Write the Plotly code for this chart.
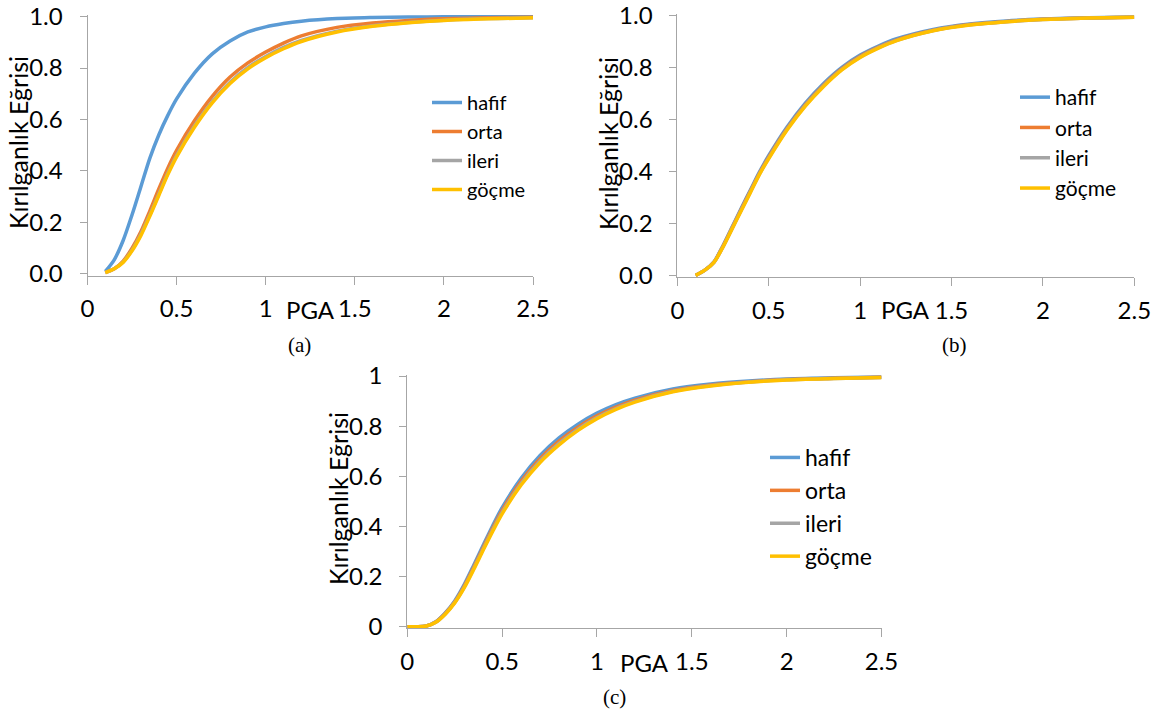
import plotly.graph_objects as go

# ---------------- data ----------------
SERIES = ["hafif", "orta", "ileri", "göçme"]
COLORS = ["#5B9BD5", "#ED7D31", "#A5A5A5", "#FFC000"]

X_TICKS = [0, 0.5, 1, 1.5, 2, 2.5]
Y_TICKS = [0, 0.2, 0.4, 0.6, 0.8, 1.0]

X_AB = [0.1, 0.15, 0.2, 0.25, 0.3, 0.35, 0.4, 0.45, 0.5, 0.6, 0.7, 0.8, 0.9,
        1.0, 1.1, 1.2, 1.4, 1.6, 1.8, 2.0, 2.25, 2.5]

A_hafif = [0.010, 0.055, 0.130, 0.230, 0.340, 0.450, 0.540, 0.615, 0.680, 0.780, 0.855, 0.905, 0.940,
           0.960, 0.973, 0.982, 0.992, 0.996, 0.998, 0.999, 1.000, 1.000]
A_orta = [0.005, 0.020, 0.050, 0.100, 0.165, 0.245, 0.330, 0.410, 0.480, 0.595, 0.690, 0.765, 0.820,
          0.862, 0.897, 0.925, 0.958, 0.975, 0.985, 0.991, 0.995, 0.997]
A_ileri = [0.005, 0.020, 0.047, 0.093, 0.155, 0.230, 0.310, 0.390, 0.460, 0.575, 0.670, 0.745, 0.802,
           0.845, 0.880, 0.907, 0.943, 0.964, 0.977, 0.986, 0.992, 0.995]
A_gocme = [0.005, 0.020, 0.045, 0.090, 0.150, 0.225, 0.305, 0.385, 0.455, 0.570, 0.665, 0.740, 0.797,
           0.840, 0.875, 0.903, 0.940, 0.962, 0.976, 0.985, 0.991, 0.995]

B_hafif = [0.000, 0.020, 0.052, 0.115, 0.187, 0.260, 0.330, 0.400, 0.462, 0.572, 0.664, 0.740, 0.802,
           0.849, 0.884, 0.912, 0.948, 0.969, 0.981, 0.988, 0.993, 0.996]
B_orta = [0.000, 0.020, 0.051, 0.113, 0.184, 0.256, 0.326, 0.395, 0.457, 0.566, 0.658, 0.734, 0.797,
          0.845, 0.880, 0.908, 0.945, 0.967, 0.979, 0.987, 0.992, 0.995]
B_ileri = [0.000, 0.020, 0.050, 0.111, 0.182, 0.253, 0.323, 0.392, 0.453, 0.563, 0.655, 0.731, 0.794,
           0.842, 0.878, 0.906, 0.944, 0.966, 0.978, 0.986, 0.992, 0.995]
B_gocme = [0.000, 0.020, 0.050, 0.110, 0.180, 0.250, 0.320, 0.390, 0.450, 0.560, 0.652, 0.728, 0.792,
           0.840, 0.876, 0.905, 0.943, 0.965, 0.978, 0.986, 0.992, 0.995]

X_C = [0, 0.05, 0.1, 0.15, 0.2, 0.25, 0.3, 0.35, 0.4, 0.45, 0.5, 0.6, 0.7, 0.8, 0.9,
       1.0, 1.1, 1.2, 1.4, 1.6, 1.8, 2.0, 2.25, 2.5]

C_hafif = [0, 0, 0.003, 0.020, 0.055, 0.103, 0.168, 0.245, 0.325, 0.403, 0.475, 0.592, 0.683, 0.753, 0.808,
           0.852, 0.886, 0.912, 0.948, 0.968, 0.980, 0.988, 0.993, 0.996]
C_orta = [0, 0, 0.003, 0.019, 0.053, 0.099, 0.162, 0.237, 0.316, 0.393, 0.464, 0.580, 0.670, 0.740, 0.796,
          0.841, 0.876, 0.904, 0.942, 0.964, 0.977, 0.986, 0.991, 0.995]
C_ileri = [0, 0, 0.003, 0.018, 0.051, 0.097, 0.158, 0.232, 0.310, 0.386, 0.456, 0.571, 0.661, 0.731, 0.788,
           0.834, 0.870, 0.899, 0.939, 0.962, 0.976, 0.985, 0.990, 0.994]
C_gocme = [0, 0, 0.003, 0.018, 0.050, 0.095, 0.155, 0.228, 0.305, 0.380, 0.450, 0.565, 0.655, 0.725, 0.783,
           0.830, 0.867, 0.896, 0.937, 0.960, 0.975, 0.984, 0.990, 0.994]

Y_TITLE = "Kırılganlık Eğrisi"
X_TITLE = "PGA"
CAPTIONS = ["(a)", "(b)", "(c)"]

# ---------------- style / layout ----------------
W, H = 1152, 713
FONT = "Lato"
SERIF = "Liberation Serif"
AXC = "#A6A6A6"
TICK_FS = 24
TITLE_FS = 25
LEG_FS = [20, 21, 23]
LEG_GAP = [0, 0, 0]


def px(x):
    return x / W


def py(y):
    return 1 - y / H


panels = [
    dict(x=X_AB, ys=[A_hafif, A_orta, A_ileri, A_gocme], fmt=".1f",
         xdom=[px(87.5), px(533.0)], ydom=[py(275.5), py(15.0)],
         legend=dict(x=px(427), y=py(83)), ytitle=(px(18), py(143)),
         xtitle=(px(310), py(309)), cap=(px(299), py(345))),
    dict(x=X_AB, ys=[B_hafif, B_orta, B_ileri, B_gocme], fmt=".1f",
         xdom=[px(677.4), px(1134.3)], ydom=[py(276.9), py(14.4)],
         legend=dict(x=px(1015), y=py(77)), ytitle=(px(608), py(144)),
         xtitle=(px(905), py(310)), cap=(px(954), py(345))),
    dict(x=X_C, ys=[C_hafif, C_orta, C_ileri, C_gocme], fmt="",
         xdom=[px(407.3), px(881.5)], ydom=[py(628.2), py(374.5)],
         legend=dict(x=px(765), y=py(436)), ytitle=(px(338), py(499)),
         xtitle=(px(644), py(662)), cap=(px(614), py(697))),
]

fig = go.Figure()
layout = dict(width=W, height=H,
              margin=dict(l=0, r=0, t=0, b=0, autoexpand=False),
              template="none",
              paper_bgcolor="white", plot_bgcolor="white",
              font=dict(family=FONT, size=TICK_FS, color="black"),
              annotations=[])

for i, p in enumerate(panels):
    n = "" if i == 0 else str(i + 1)
    xa, ya = "x" + n, "y" + n
    leg = "legend" + n
    for name, color, yv in zip(SERIES, COLORS, p["ys"]):
        fig.add_trace(go.Scatter(
            x=p["x"], y=yv, name=name, mode="lines",
            line=dict(color=color, width=3.5, shape="spline", smoothing=0.8),
            xaxis=xa, yaxis=ya, legend=leg, legendgroup=f"{i}_{name}",
            hoverinfo="x+y+name"))
    layout["xaxis" + n] = dict(
        domain=p["xdom"], anchor=ya, range=[0, 2.5], tickvals=X_TICKS,
        showline=True, linecolor=AXC, linewidth=1, ticks="outside", ticklen=8,
        tickcolor=AXC, tickwidth=1, showgrid=False, zeroline=False,
        automargin=False,
        tickfont=dict(family=FONT, size=TICK_FS, color="black"),
        ticklabelstandoff=4, fixedrange=True)
    layout["yaxis" + n] = dict(
        domain=p["ydom"], anchor=xa, range=[-0.006, 1.006], tickvals=Y_TICKS,
        tickformat=p["fmt"], showline=True, linecolor=AXC, linewidth=1,
        ticks="outside", ticklen=7, tickcolor=AXC, tickwidth=1,
        showgrid=False, zeroline=False, automargin=False,
        tickfont=dict(family=FONT, size=TICK_FS, color="black"),
        ticklabelstandoff=12, fixedrange=True)
    layout[leg] = dict(
        x=p["legend"]["x"], y=p["legend"]["y"], xanchor="left", yanchor="top",
        bgcolor="rgba(0,0,0,0)", borderwidth=0,
        font=dict(family=FONT, size=LEG_FS[i], color="black"),
        tracegroupgap=LEG_GAP[i], itemclick=False, itemdoubleclick=False)
    layout["annotations"] += [
        dict(text=Y_TITLE, textangle=-90, x=p["ytitle"][0], y=p["ytitle"][1],
             xref="paper", yref="paper", xanchor="center", yanchor="middle",
             showarrow=False, font=dict(family=FONT, size=TITLE_FS, color="black")),
        dict(text=X_TITLE, x=p["xtitle"][0], y=p["xtitle"][1],
             xref="paper", yref="paper", xanchor="center", yanchor="middle",
             showarrow=False, font=dict(family=FONT, size=TICK_FS, color="black")),
        dict(text=CAPTIONS[i], x=p["cap"][0], y=p["cap"][1],
             xref="paper", yref="paper", xanchor="center", yanchor="middle",
             showarrow=False, font=dict(family=SERIF, size=21, color="black")),
    ]

fig.update_layout(**layout)
fig.write_html(
    "out.html",
    config={"displayModeBar": False},
    post_script="document.body.style.margin='0';"
                "document.body.style.padding='0';"
                "document.documentElement.style.overflow='hidden';")
